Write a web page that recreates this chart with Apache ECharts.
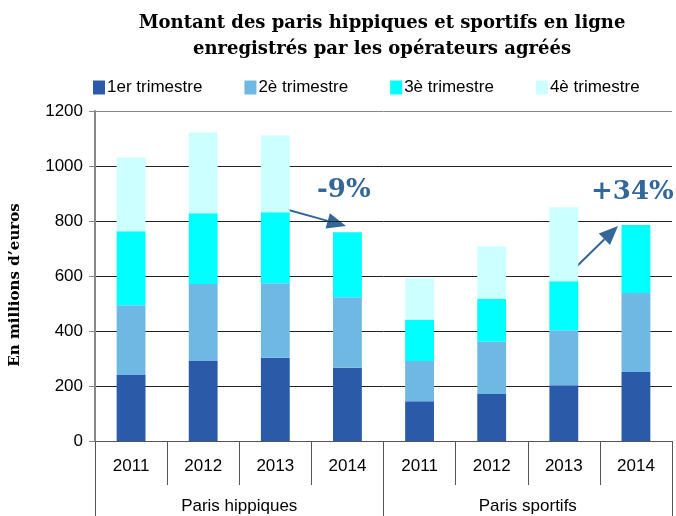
<!doctype html>
<html>
<head>
<meta charset="utf-8">
<title>paris en ligne</title>
<script src="https://cdn.jsdelivr.net/npm/echarts@6/dist/echarts.min.js"></script>
<style>
  html, body { margin: 0; padding: 0; background: #fff; }
  #div_charts { width: 676px; height: 516px; }
</style>
</head>
<body>
<div id="div_charts"></div>
<script>
// donnees (millions d'euros)
var years = ['2011', '2012', '2013', '2014', '2011', '2012', '2013', '2014'];
var groups = ['Paris hippiques', 'Paris sportifs'];
var legendNames = ['1er trimestre', '2è trimestre', '3è trimestre', '4è trimestre'];
var q1 = [240, 291, 303, 266, 145, 171, 203, 251];
var q2 = [254, 280, 271, 257, 146, 190, 200, 287];
var q3 = [269, 257, 258, 236, 149, 155, 178, 247];
var q4 = [268, 294, 279, '-', 152, 192, 269, '-'];
var colors = ['#2b5ba8', '#70b8e4', '#00ffff', '#ccffff'];

var blue = '#336699';
function arrow(x1, y1, x2, y2) {
  var dx = x2 - x1, dy = y2 - y1, len = Math.sqrt(dx * dx + dy * dy);
  var ux = dx / len, uy = dy / len, L = 19, W = 8;
  var bx = x2 - ux * L, by = y2 - uy * L;
  return [
    { type: 'line', shape: { x1: x1, y1: y1, x2: bx, y2: by }, style: { stroke: blue, lineWidth: 2 } },
    { type: 'polygon', shape: { points: [[x2, y2], [bx - uy * W, by + ux * W], [bx + uy * W, by - ux * W]] }, style: { fill: blue } }
  ];
}

var myChart = echarts.init(document.getElementById('div_charts'));
var serif = 'DejaVu Serif';
var sans = 'Liberation Sans';

var series = [q1, q2, q3, q4].map(function (d, i) {
  return {
    name: legendNames[i],
    type: 'bar',
    stack: 'total',
    barWidth: '40%',
    data: d,
    itemStyle: { color: colors[i] }
  };
});

var option = {
  animation: false,
  title: {
    text: 'Montant des paris hippiques et sportifs en ligne\nenregistrés par les opérateurs agréés',
    left: 377,
    textAlign: 'center',
    top: 5,
    textStyle: { fontFamily: serif, fontWeight: 'bold', fontSize: 18, lineHeight: 26, color: '#000' }
  },
  legend: {
    data: legendNames,
    left: 88,
    top: 74,
    icon: 'rect',
    itemWidth: 12,
    itemHeight: 14,
    itemGap: 42,
    textStyle: { fontFamily: sans, fontSize: 17, color: '#000', padding: [0, 0, 0, -3] }
  },
  grid: { left: 92, right: 4, top: 111, bottom: 75 },
  xAxis: [{
    type: 'category',
    data: years,
    axisLine: { lineStyle: { color: '#555', width: 1 } },
    axisTick: { show: true, interval: 0, length: 44, lineStyle: { color: '#555' } },
    axisLabel: { interval: 0, fontFamily: sans, fontSize: 17, color: '#000', margin: 17 }
  }, {
    type: 'category',
    data: groups,
    position: 'bottom',
    offset: 44,
    axisLine: { show: false },
    axisTick: { show: true, interval: 0, length: 32, lineStyle: { color: '#555' } },
    axisLabel: { fontFamily: sans, fontSize: 17, color: '#000', margin: 13 }
  }],
  yAxis: {
    type: 'value',
    min: 0,
    max: 1200,
    interval: 200,
    name: 'En millions d’euros',
    nameLocation: 'middle',
    nameGap: 72,
    nameTextStyle: { fontFamily: serif, fontWeight: 'bold', fontSize: 15, color: '#000', padding: [0, 18, 0, 0] },
    axisLine: { show: true, lineStyle: { color: '#888', width: 2 } },
    axisTick: { show: true, length: 6, lineStyle: { color: '#888' } },
    axisLabel: { fontFamily: sans, fontSize: 17, color: '#000', margin: 12, formatter: function (v) { return String(v); } },
    splitLine: { lineStyle: { color: ['#222', '#222', '#222', '#222', '#222', '#222', '#888'], width: 1 } }
  },
  series: series,
  graphic: [].concat(
    arrow(285, 209, 346, 226),
    arrow(572, 271, 618, 226),
    [
      { type: 'text', left: 317, top: 177, style: { text: '-9%', font: 'bold 26px "DejaVu Serif"', fill: blue } },
      { type: 'text', left: 591, top: 179, style: { text: '+34%', font: 'bold 26px "DejaVu Serif"', fill: blue } }
    ]
  )
};

myChart.setOption(option);
</script>
</body>
</html>
